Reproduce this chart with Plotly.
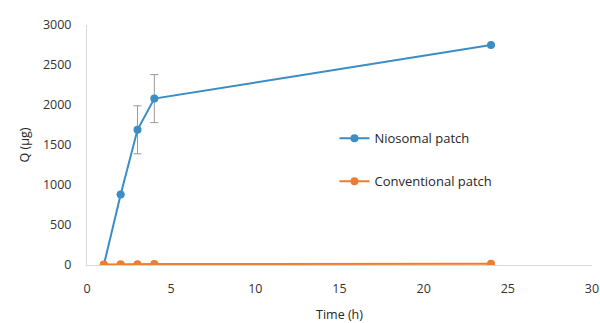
import plotly.graph_objects as go

time_nio = [1, 2, 3, 4, 24]
q_nio = [0, 880, 1690, 2080, 2750]
err_nio = [0, 0, 300, 300, 0]
time_conv = [1, 2, 3, 4, 24]
q_conv = [5, 8, 10, 12, 15]

blue = "#3A8DC5"
orange = "#ED7D31"

fig = go.Figure()
fig.add_trace(go.Scatter(
    x=time_nio, y=q_nio, mode="lines+markers", name="Niosomal patch",
    legendgroup="a",
    line=dict(color=blue, width=2), marker=dict(color=blue, size=8),
    error_y=dict(type="data", array=err_nio, color="#999999", thickness=1, width=4),
))
fig.add_trace(go.Scatter(
    x=time_conv, y=q_conv, mode="lines+markers", name="Conventional patch",
    legendgroup="b",
    line=dict(color=orange, width=2), marker=dict(color=orange, size=8),
))

fig.update_layout(
    width=600, height=323,
    margin=dict(l=87, r=8, t=25, b=58),
    paper_bgcolor="white", plot_bgcolor="white",
    font=dict(family="Open Sans", size=12, color="#333333"),
    legend=dict(x=0.49, y=0.59, xanchor="left", yanchor="top",
                bgcolor="rgba(0,0,0,0)", font=dict(size=13, color="#262626"),
                tracegroupgap=23),
    xaxis=dict(range=[0, 30], dtick=5, showgrid=False, zeroline=False,
               showline=True, linecolor="#D9D9D9", linewidth=1,
               ticks="", ticklabelstandoff=12, automargin=False,
               tickfont=dict(size=12.5, color="#333333"),
               title=dict(text="Time (h)", font=dict(size=12.5, color="#262626"), standoff=18)),
    yaxis=dict(range=[0, 3000], dtick=500, showgrid=False, zeroline=False,
               showline=True, linecolor="#D9D9D9", linewidth=1,
               ticks="", ticklabelstandoff=12, automargin=False,
               tickfont=dict(size=12.5, color="#333333"),
               title=dict(text="Q (µg)", font=dict(size=12.5, color="#262626"), standoff=10)),
)

fig.write_html(
    "out.html",
    config={"displayModeBar": False},
    post_script="document.body.style.margin='0';document.body.style.overflow='hidden';",
)
